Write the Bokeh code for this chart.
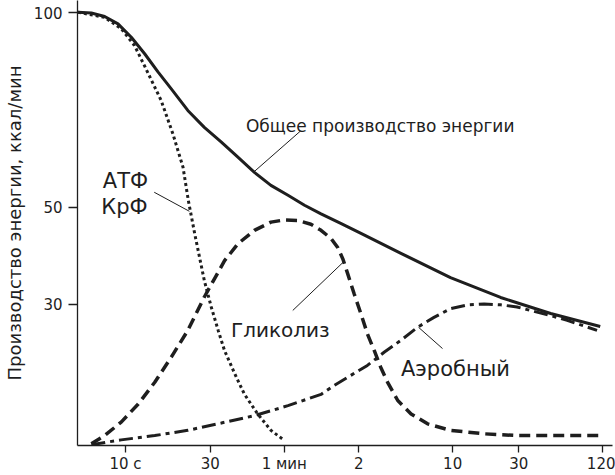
from bokeh.plotting import figure
from bokeh.models import Range1d, FixedTicker, Label
from bokeh.embed import file_html
from bokeh.resources import INLINE

# Chart units: x 0..100 across the plot width (schematic time axis), y 0..100 (schematic energy axis)
x_tick_pos = [9.0, 24.9, 38.8, 52.8, 70.4, 82.8, 98.5]
x_tick_labels = ["10 с", "30", "1 мин", "2", "10", "30", "120"]
y_tick_pos = [32.6, 55.0, 100.0]
y_tick_labels = ["30", "50", "100"]

# Общее производство энергии (solid)
total_x = [0.1, 2.6, 5.1, 7.6, 10.1, 12.6, 15.1, 17.6, 20.7, 23.8, 27.0, 30.1, 33.2, 36.3, 39.5,
           42.6, 45.7, 49.4, 53.2, 60.7, 70.0, 79.4, 88.8, 98.1]
total_y = [100.1, 99.9, 99.1, 97.4, 94.3, 90.5, 86.3, 82.4, 77.4, 73.5, 70.1, 66.6, 63.1, 60.1, 57.8,
           55.5, 53.5, 51.3, 49.0, 44.4, 38.8, 34.2, 30.5, 27.5]

# АТФ / КрФ (dotted)
atp_x = [0.1, 5.1, 8.2, 10.7, 12.7, 15.7, 17.9, 19.8, 20.8, 22.0, 22.9, 23.8, 25.1, 26.4, 27.6,
         29.5, 31.3, 33.8, 36.3, 38.8]
atp_y = [100.1, 98.9, 96.3, 92.4, 87.4, 79.7, 72.0, 64.3, 56.6, 48.9, 43.5, 38.1, 32.0, 26.6, 21.9,
         16.6, 11.9, 7.3, 3.5, 1.2]

# Гликолиз (dashed)
gly_x = [2.6, 5.1, 8.2, 11.4, 14.5, 17.6, 20.7, 23.8, 25.7, 27.6, 30.1, 33.2, 36.3, 38.8, 41.3,
         43.8, 45.7, 47.6, 48.8, 49.8, 50.7, 51.9, 53.2, 54.4, 55.7, 56.9, 58.2, 60.1, 62.6, 65.7,
         70.0, 76.3, 82.5, 98.1]
gly_y = [0.4, 2.3, 5.4, 9.6, 14.6, 20.4, 26.6, 34.3, 38.5, 42.7, 46.6, 49.7, 51.6, 52.1, 52.0,
         51.1, 49.7, 47.8, 45.8, 43.1, 39.7, 35.1, 30.4, 25.8, 21.9, 18.1, 14.6, 10.4, 7.3, 5.0,
         3.5, 2.7, 2.3, 2.3]

# Аэробный (dash-dot)
aer_x = [2.6, 8.2, 14.5, 20.7, 27.0, 33.2, 39.5, 45.7, 48.2, 51.3, 54.4, 57.6, 60.7, 63.8, 66.9,
         70.0, 73.2, 76.3, 79.4, 82.5, 85.6, 88.8, 91.9, 97.5]
aer_y = [0.2, 1.3, 2.3, 3.5, 5.2, 6.9, 9.2, 11.8, 13.9, 16.2, 18.5, 21.6, 24.3, 27.3, 29.6,
         31.6, 32.5, 32.7, 32.5, 32.0, 31.0, 30.0, 28.9, 26.6]

ink = "#1e1e1e"
font = "DejaVu Sans"

p = figure(width=615, height=475,
           x_range=Range1d(0, 100.4), y_range=Range1d(0, 102.8),
           output_backend="svg", toolbar_location=None,
           min_border_left=76, min_border_right=3,
           min_border_top=0, min_border_bottom=30)
p.outline_line_color = None
p.grid.visible = False
p.background_fill_color = "white"

for ax in (p.xaxis, p.yaxis):
    ax.axis_line_color = ink
    ax.axis_line_width = 1.3
    ax.major_tick_line_color = ink
    ax.major_tick_line_width = 1.3
    ax.major_tick_in = 0
    ax.minor_tick_line_color = None
    ax.major_label_text_font = font
    ax.major_label_text_font_size = "15px"
    ax.major_label_text_color = ink

p.xaxis.major_tick_out = 7
p.yaxis.major_tick_out = 9
p.xaxis.ticker = FixedTicker(ticks=x_tick_pos)
p.xaxis.major_label_overrides = {t: l for t, l in zip(x_tick_pos, x_tick_labels)}
p.xaxis.major_label_standoff = 2
p.yaxis.ticker = FixedTicker(ticks=y_tick_pos)
p.yaxis.major_label_overrides = {t: l for t, l in zip(y_tick_pos, y_tick_labels)}
p.yaxis.major_label_standoff = 6
p.yaxis.axis_label = "Производство энергии, ккал/мин"
p.yaxis.axis_label_text_font = font
p.yaxis.axis_label_text_font_size = "18px"
p.yaxis.axis_label_text_font_style = "normal"
p.yaxis.axis_label_text_color = ink
p.yaxis.axis_label_standoff = 6

p.line(total_x, total_y, line_width=3, color=ink, line_join="round")
p.line(atp_x, atp_y, line_width=3, color=ink, line_dash="3 3")
p.line(gly_x, gly_y, line_width=3.5, color=ink, line_dash="11 6")
p.line(aer_x, aer_y, line_width=3, color=ink, line_dash="14 5 4 5")

# leader lines
p.segment(x0=[41.8, 14.4, 40.4, 68.5], y0=[72.6, 58.5, 31.2, 22.4],
          x1=[33.0, 21.0, 50.0, 64.0], y1=[63.1, 54.1, 42.5, 27.3],
          line_width=1, color=ink)

labels = [
    ("Общее производство энергии", 31.6, 73.7, "left", "17px"),
    ("АТФ", 9.0, 61.0, "center", "21px"),
    ("КрФ", 8.8, 55.2, "center", "21px"),
    ("Гликолиз", 28.8, 26.6, "left", "20px"),
    ("Аэробный", 60.7, 17.7, "left", "21px"),
]
for txt, x, y, align, size in labels:
    p.add_layout(Label(x=x, y=y, text=txt, text_align=align, text_baseline="alphabetic",
                       text_font=font, text_font_size=size, text_color=ink))

open("out.html", "w").write(file_html(p, INLINE))
